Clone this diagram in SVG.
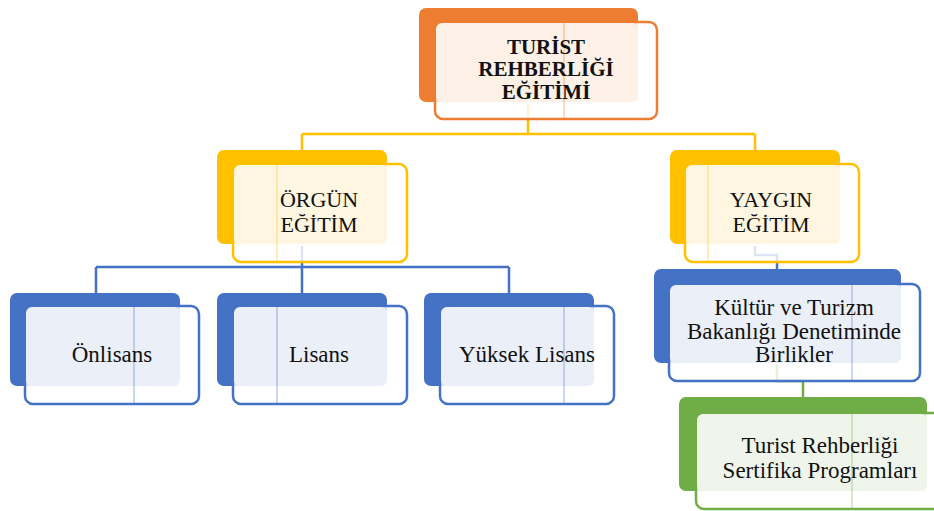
<svg xmlns="http://www.w3.org/2000/svg" width="934" height="511" viewBox="0 0 934 511">
<style>
.t{font-family:'Liberation Serif','DejaVu Serif',serif;fill:#111;text-anchor:middle}
.b{font-weight:bold;font-size:21px}
.m{font-size:22px}
.s{font-size:23px}
.fr{fill:#fff;fill-opacity:0.82;stroke-width:2.5}
.vl{stroke-width:1;opacity:0.55}
.c{fill:none;stroke-width:2.5}
</style>
<rect width="934" height="511" fill="#fff"/>
<g id="connectors">
<path class="c" stroke="#FFC000" d="M528,104 V134 M302,134 H755 M302,134 V152 M755,134 V152"/>
<path class="c" stroke="#4472C4" d="M302,246 V267 M96,267 H509 M96,267 V295 M302,267 V295 M509,267 V295"/>
<path class="c" stroke="#4472C4" d="M755,246 V255 H777 V271"/>
<path class="c" stroke="#70AD47" d="M777,365 V381 H803 V399"/>
</g>
<g id="n-top">
<rect x="419" y="8" width="219" height="94" rx="7" fill="#ED7D31"/>
<rect class="fr" x="435" y="22" width="222" height="97" rx="8" stroke="#ED7D31"/>
<rect x="436" y="23" width="202" height="79" rx="6" fill="#FCF0E7"/>
<line class="vl" x1="564" y1="23" x2="564" y2="118" stroke="#ED7D31"/>
<text class="t b" x="546" y="54">TURİST</text>
<text class="t b" x="546" y="76">REHBERLİĞİ</text>
<text class="t b" x="546" y="99">EĞİTİMİ</text>
</g>
<g id="n-orgun">
<rect x="217" y="150" width="170" height="94" rx="7" fill="#FFC000"/>
<rect class="fr" x="233" y="164" width="174" height="98" rx="8" stroke="#FFC000"/>
<rect x="234" y="165" width="153" height="79" rx="6" fill="#FFF6E1"/>
<line class="vl" x1="277" y1="165" x2="277" y2="261" stroke="#FFC000"/>
<text class="t m" x="319" y="207">ÖRGÜN</text>
<text class="t m" x="319" y="232">EĞİTİM</text>
</g>
<g id="n-yaygin">
<rect x="670" y="150" width="170" height="94" rx="7" fill="#FFC000"/>
<rect class="fr" x="685" y="164" width="174" height="98" rx="8" stroke="#FFC000"/>
<rect x="686" y="165" width="154" height="79" rx="6" fill="#FFF6E1"/>
<line class="vl" x1="708" y1="165" x2="708" y2="261" stroke="#FFC000"/>
<text class="t m" x="771" y="207">YAYGIN</text>
<text class="t m" x="771" y="232">EĞİTİM</text>
</g>
<g id="n-onlisans">
<rect x="10" y="293" width="170" height="93" rx="7" fill="#4472C4"/>
<rect class="fr" x="25" y="306" width="174" height="98" rx="8" stroke="#4472C4"/>
<rect x="26" y="307" width="154" height="79" rx="6" fill="#EAEFF8"/>
<line class="vl" x1="134" y1="307" x2="134" y2="403" stroke="#4472C4"/>
<text class="t s" x="112" y="362">Önlisans</text>
</g>
<g id="n-lisans">
<rect x="217" y="293" width="170" height="93" rx="7" fill="#4472C4"/>
<rect class="fr" x="233" y="306" width="174" height="98" rx="8" stroke="#4472C4"/>
<rect x="234" y="307" width="153" height="79" rx="6" fill="#EAEFF8"/>
<line class="vl" x1="277" y1="307" x2="277" y2="403" stroke="#4472C4"/>
<text class="t s" x="319" y="362">Lisans</text>
</g>
<g id="n-yuksek">
<rect x="424" y="293" width="170" height="93" rx="7" fill="#4472C4"/>
<rect class="fr" x="440" y="306" width="174" height="98" rx="8" stroke="#4472C4"/>
<rect x="441" y="307" width="153" height="79" rx="6" fill="#EAEFF8"/>
<line class="vl" x1="564" y1="307" x2="564" y2="403" stroke="#4472C4"/>
<text class="t s" x="527" y="362">Yüksek Lisans</text>
</g>
<g id="n-kultur">
<rect x="654" y="269" width="247" height="94" rx="7" fill="#4472C4"/>
<rect class="fr" x="669" y="284" width="251" height="97" rx="8" stroke="#4472C4"/>
<rect x="670" y="285" width="231" height="78" rx="6" fill="#EAEFF8"/>
<line class="vl" x1="852" y1="285" x2="852" y2="380" stroke="#4472C4"/>
<text class="t s" x="794" y="315">Kültür ve Turizm</text>
<text class="t s" x="794" y="339">Bakanlığı Denetiminde</text>
<text class="t s" x="794" y="362">Birlikler</text>
</g>
<g id="n-turist">
<rect x="679" y="397" width="248" height="94" rx="7" fill="#70AD47"/>
<rect class="fr" x="696" y="413" width="250" height="96" rx="8" stroke="#70AD47"/>
<rect x="697" y="414" width="230" height="77" rx="6" fill="#EFF5EB"/>
<line class="vl" x1="852" y1="414" x2="852" y2="508" stroke="#70AD47"/>
<text class="t s" x="820" y="453">Turist Rehberliği</text>
<text class="t s" x="820" y="478">Sertifika Programları</text>
</g>
</svg>
